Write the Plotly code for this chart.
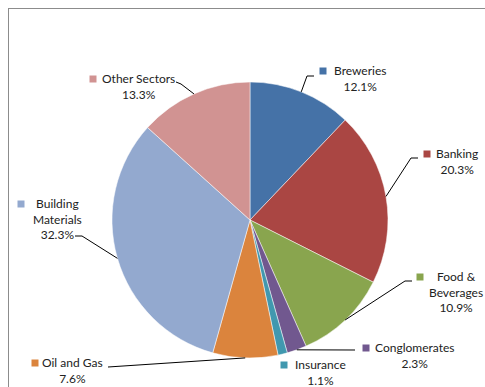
import math
import plotly.graph_objects as go

# ---- data ----
sectors = ["Breweries", "Banking", "Food & Beverages", "Conglomerates",
           "Insurance", "Oil and Gas", "Building Materials", "Other Sectors"]
shares = [12.1, 20.3, 10.9, 2.3, 1.1, 7.6, 32.3, 13.3]
label_names = ["Breweries", "Banking", "Food &<br>Beverages", "Conglomerates",
               "Insurance", "Oil and Gas", "Building<br>Materials", "Other Sectors"]
colors = ["#4572A7", "#AA4643", "#89A54E", "#71588F",
          "#4198AF", "#DB843D", "#93A9CF", "#D19392"]

# ---- layout / placement (page pixels) ----
W, H = 485, 387
CX, CY, R = 250, 220, 138
FONT = "Lato"
FS = 12
# label name-centre x, first-line centre y, legend-key x, leader elbow points
placement = {
    "Breweries": (360, 71, 323, [(307, 76), (314, 76)]),
    "Banking": (457, 154, 427, [(411, 158), (418, 158)]),
    "Food & Beverages": (456, 277, 420, [(405, 281), (412, 281)]),
    "Conglomerates": (414, 348, 366, [(355, 350)]),
    "Insurance": (320, 365, 284, []),
    "Oil and Gas": (72, 363, 35, [(108, 367)]),
    "Building Materials": (57, 204, 21, [(82, 236), (75, 236)]),
    "Other Sectors": (138, 79, 93, [(181, 84), (176, 82)]),
}


def px(x):
    return x / W


def py(y):
    return 1 - y / H


fig = go.Figure(go.Pie(
    labels=sectors, values=shares, sort=False, direction="clockwise", rotation=0,
    marker=dict(colors=colors, line=dict(color="white", width=0.5)),
    textinfo="none", hoverinfo="label+percent", showlegend=False,
    domain=dict(x=[px(CX - R), px(CX + R)], y=[py(CY + R), py(CY - R)]),
))

shapes = []
annotations = []
total = sum(shares)
cum = 0.0
for name, lbl, val, col in zip(sectors, label_names, shares, colors):
    mid = (cum + val / 2) / total * 2 * math.pi
    cum += val
    sx = CX + R * math.sin(mid)
    sy = CY - R * math.cos(mid)
    lx, ly, kx, elbows = placement[name]
    pts = [(sx, sy)] + elbows
    if len(pts) > 1:
        path = "M " + " L ".join(f"{px(x)},{py(y)}" for x, y in pts)
        shapes.append(dict(type="path", xref="paper", yref="paper", path=path,
                           line=dict(color="black", width=1)))
    shapes.append(dict(type="rect", xref="paper", yref="paper",
                       x0=px(kx - 3.5), x1=px(kx + 3.5), y0=py(ly + 3.5), y1=py(ly - 3.5),
                       fillcolor=col, line=dict(width=0)))
    annotations.append(dict(xref="paper", yref="paper", x=px(lx), y=py(ly - 10),
                            xanchor="center", yanchor="top", showarrow=False,
                            text=f"{lbl}<br>{val:.1f}%", align="center",
                            font=dict(family=FONT, size=FS, color="#222")))

# chart border (top and left edges visible)
shapes.append(dict(type="line", xref="paper", yref="paper", x0=px(8), x1=px(W + 20),
                   y0=py(8.5), y1=py(8.5), line=dict(color="#8c8c8c", width=1)))
shapes.append(dict(type="line", xref="paper", yref="paper", x0=px(8.5), x1=px(8.5),
                   y0=py(8), y1=py(H + 20), line=dict(color="#8c8c8c", width=1)))

fig.update_layout(width=W, height=H, margin=dict(l=0, r=0, t=0, b=0),
                  paper_bgcolor="white", plot_bgcolor="white",
                  shapes=shapes, annotations=annotations)
fig.write_html("out.html", config={"displayModeBar": False},
               post_script="document.documentElement.style.overflow='hidden';"
                           "document.body.style.overflow='hidden';"
                           "document.body.style.margin='0';")
